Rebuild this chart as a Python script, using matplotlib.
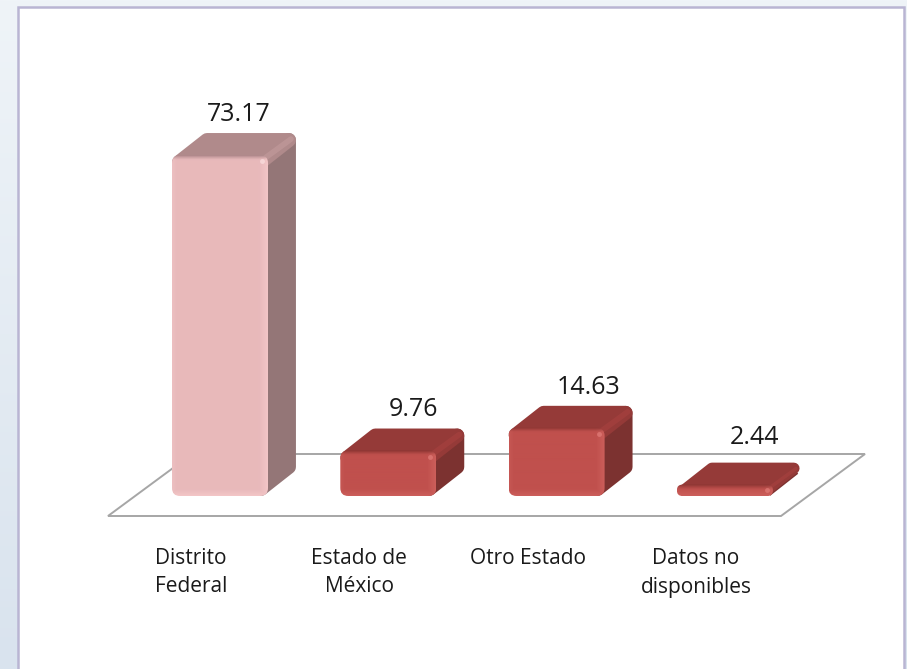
import numpy as np
import matplotlib
matplotlib.use("Agg")
import matplotlib.pyplot as plt
from matplotlib.colors import LinearSegmentedColormap, to_rgb
from matplotlib.patches import FancyBboxPatch, Polygon, Rectangle

plt.rcParams['font.family'] = ['Open Sans', 'DejaVu Sans']

categories = ["Distrito\nFederal", "Estado de\nMéxico", "Otro Estado", "Datos no\ndisponibles"]
values = [73.17, 9.76, 14.63, 2.44]
highlighted = [True, False, False, False]

W, H = 907, 669
px_x = 168.3   # pixels per category
px_y = 4.66    # pixels per value unit
x0_px, y0_px = 220, 496

label_dx = [19, 25, 32, 30]
label_gap = [41, 41, 40, 47]

pink = dict(front="#e8b9bb", bevel="#f3c6c7", low="#a98386", top="#b08a8b", side="#947677", edge="#c49c9d", spot="#fbe0e0")
red = dict(front="#c0504d", bevel="#cc5f5b", low="#85322f", top="#953a38", side="#7c3230", edge="#a84240", spot="#e27e7a")

fig = plt.figure(figsize=(W / 100, H / 100), dpi=100)

# background gradient behind the white panel
bg = fig.add_axes([0, 0, 1, 1])
bg.imshow(np.linspace(0, 1, 256).reshape(-1, 1), aspect="auto", extent=(0, 1, 0, 1),
          cmap=LinearSegmentedColormap.from_list("bg", ["#eff4f8", "#d9e3ee"]))
bg.axis("off")
bg.add_patch(Rectangle((18 / W, -0.01), (904 - 18) / W, 1.01 - 7 / H, fc="white", ec="#b9b5d3", lw=1.8))

ax = fig.add_axes([0, 0, 1, 1], facecolor="none")
ax.set_xlim(-x0_px / px_x, (W - x0_px) / px_x)
ax.set_ylim(-(H - y0_px) / px_y, y0_px / px_y)
ax.set_autoscale_on(False)
ax.axis("off")

bar_w = 96 / px_x
dx = 28 / px_x
dy = 22 / px_y


def to_x(p):
    return (p - x0_px) / px_x


def to_y(p):
    return (y0_px - p) / px_y


# floor
floor = [(to_x(108), to_y(516)), (to_x(192), to_y(454)), (to_x(865), to_y(454)), (to_x(781), to_y(516))]
ax.add_patch(Polygon(floor, closed=True, fc="white", ec="#a6a6a6", lw=1.4, zorder=1))


def front_face(left, h, c):
    # per-pixel bevel shading, clipped to a rounded box
    w_px, h_px = 96, max(int(round(h * px_y)), 2)
    r = min(8, h_px / 2)
    xx, yy = np.meshgrid(np.arange(w_px) + 0.5, np.arange(h_px) + 0.5)
    base, bevel, low = [np.array(to_rgb(c[k])) for k in ("front", "bevel", "low")]
    d_top = np.clip(1 - yy / 7, 0, 1)[..., None]
    d_right = np.clip(1 - (w_px - xx) / 9, 0, 1)[..., None]
    d_left = np.clip(1 - xx / 5, 0, 1)[..., None]
    d_bot = np.clip(1 - (h_px - yy) / 5, 0, 1)[..., None]
    img = base + (bevel - base) * np.maximum(np.maximum(d_top, d_right), d_left * 0.5)
    img = img + (low - img) * d_bot ** 1.3
    im = ax.imshow(img, extent=(left, left + bar_w, h, 0), aspect="auto", zorder=6,
                   interpolation="bilinear")
    box = FancyBboxPatch((left + r / px_x, r / px_y), bar_w - 2 * r / px_x, h - 2 * r / px_y,
                         boxstyle=f"round,pad={r / px_x},rounding_size={r / px_x}",
                         mutation_aspect=px_x / px_y, fc="none", ec="none", zorder=6)
    ax.add_patch(box)
    im.set_clip_path(box)
    # small shine on the upper right corner
    ax.plot([left + bar_w - 6 / px_x], [h - min(6, h_px / 2) / px_y], "o", ms=3.5, color=c["spot"],
            mec="none", alpha=0.7, zorder=7)


for i, (v, hl) in enumerate(zip(values, highlighted)):
    c = pink if hl else red
    left = i - bar_w / 2
    right = i + bar_w / 2
    h = v

    rr = min(7, h * px_y / 2)
    inset_x, inset_y = 7 / px_x, rr / px_y
    round_lw = 10
    side = [(right - inset_x, inset_y), (right + dx - inset_x, dy + inset_y),
            (right + dx - inset_x, h + dy - inset_y), (right - inset_x, h - inset_y)]
    ax.add_patch(Polygon(side, closed=True, fc=c["side"], ec=c["side"], lw=round_lw,
                         joinstyle="round", zorder=3))
    top = [(left + inset_x, h - inset_y), (left + dx + inset_x, h + dy - inset_y),
           (right + dx - inset_x, h + dy - inset_y), (right - inset_x, h - inset_y)]
    thin = h * px_y < 20
    ax.add_patch(Polygon(top, closed=True, fc=c["top"], ec=c["top"], lw=2 * rr * 0.72,
                         joinstyle="round", zorder=4))
    # lighter ridge between top and side
    ax.plot([right - 3 / px_x, right + dx - 5 / px_x], [h - 3 / px_y, h + dy - 6 / px_y],
            color=c["edge"], lw=2.5 if thin else 4, alpha=0.6, solid_capstyle="round", zorder=5)

    front_face(left, h, c)

    ax.text(i + label_dx[i] / px_x, v + label_gap[i] / px_y, f"{v:.2f}", ha="center", va="center",
            fontsize=18, color="#1a1a1a", zorder=10)
    first, *rest = categories[i].split("\n")
    ax.text(i - 29 / px_x, to_y(558), first, ha="center", va="center", fontsize=15, color="#1a1a1a")
    for line in rest:
        ax.text(i - 29 / px_x, to_y(587), line, ha="center", va="center", fontsize=15, color="#1a1a1a")

fig.savefig("out.png", dpi=100)
